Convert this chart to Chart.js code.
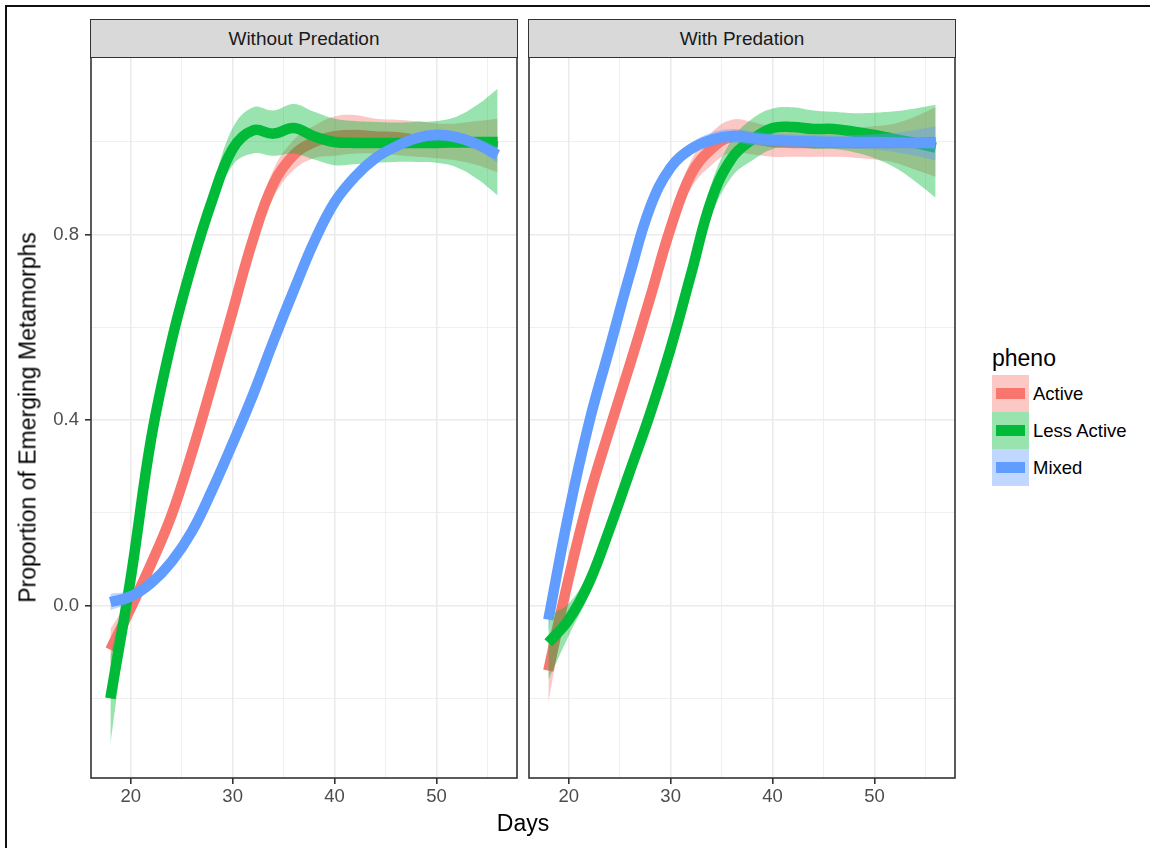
<!DOCTYPE html>
<html>
<head>
<meta charset="utf-8">
<script src="https://cdn.jsdelivr.net/npm/chart.js@4.4.0/dist/chart.umd.min.js"></script>
<style>
  body { margin: 0; background: #fff; width: 1150px; height: 848px; overflow: hidden; position: relative;
         font-family: "Liberation Sans", Arial, sans-serif; }
  canvas { position: absolute; top: 0; }
  .frame { position: absolute; left: 5px; top: 5px; right: -10px; bottom: -10px;
           border-top: 2px solid #111; border-left: 2px solid #111; }
  .strip { position: absolute; top: 19.2px; height: 38.6px; box-sizing: border-box; background: #D9D9D9;
           border: 1.6px solid #333; color: #1A1A1A; font-size: 19px; line-height: 19px;
           display: flex; align-items: center; justify-content: center; }
  .title { position: absolute; font-size: 23px; line-height: 23px; color: #000; white-space: nowrap; }
  .ytitle { left: -222px; top: 406px; width: 500px; text-align: center; transform: rotate(-90deg); }
  .key { position: absolute; left: 992px; width: 37px; height: 37px; }
  .key span { position: absolute; left: 3.7px; top: 13px; width: 29.3px; height: 11px; }
  .lab { position: absolute; left: 1033px; height: 37px; font-size: 18.5px; line-height: 37px; color: #000; }
</style>
</head>
<body>
<div class="frame"></div>
<canvas id="noPred" width="520" height="848" style="left:0"></canvas>
<canvas id="pred" width="440" height="848" style="left:520px"></canvas>

<div class="strip" style="left:90.2px; width:427.6px">Without Predation</div>
<div class="strip" style="left:528.2px; width:427.6px">With Predation</div>
<div class="title" style="left:0; width:1046px; top:812px; text-align:center">Days</div>
<div class="title ytitle">Proportion of Emerging Metamorphs</div>

<div class="title" style="left:992px; top:346.5px">pheno</div>
<div id="legend"></div>

<script>
// facet panels and groups
const panels = ['Without Predation', 'With Predation'];
const groups = ['Active', 'Less Active', 'Mixed'];
const lineColors = ['#F8766D', '#00BA38', '#619CFF'];
const ribbonColors = ['rgba(248,118,109,0.4)', 'rgba(0,186,56,0.4)', 'rgba(97,156,255,0.4)'];
const keyColors = ['#FCC8C5', '#99E3AF', '#C0D7FF'];

// axis ticks
const xTicks = [20, 25, 30, 35, 40, 45, 50, 55];
const xLabels = [20, 30, 40, 50];
const yTicks = [-0.2, 0, 0.2, 0.4, 0.6, 0.8, 1.0];
const yLabels = [0, 0.4, 0.8];

// smoothed curves (days)
const days = [18, 20, 22, 24, 26, 28, 30, 32, 34, 36, 38, 40, 42, 44, 46, 48, 50, 52, 54, 56];

// Without Predation
const woActive   = [-0.095, -0.005, 0.09, 0.195, 0.33, 0.48, 0.635, 0.79, 0.91, 0.972, 1.0, 1.012, 1.015, 1.012, 1.01, 1.005, 1.002, 1.0, 0.997, 0.99];
const woActiveLo = [-0.14, -0.03, 0.07, 0.18, 0.315, 0.465, 0.62, 0.77, 0.88, 0.94, 0.965, 0.97, 0.975, 0.975, 0.972, 0.968, 0.965, 0.96, 0.95, 0.935];
const woActiveHi = [-0.05, 0.02, 0.11, 0.21, 0.345, 0.495, 0.65, 0.81, 0.94, 1.005, 1.035, 1.055, 1.058, 1.05, 1.048, 1.045, 1.04, 1.04, 1.045, 1.05];

const woLess   = [-0.2, 0.06, 0.36, 0.57, 0.735, 0.875, 0.985, 1.025, 1.018, 1.03, 1.012, 1.0, 0.998, 0.998, 0.998, 0.998, 0.998, 0.999, 1.0, 1.0];
const woLessLo = [-0.3, 0.03, 0.34, 0.55, 0.715, 0.85, 0.95, 0.975, 0.97, 0.975, 0.962, 0.95, 0.952, 0.955, 0.957, 0.957, 0.955, 0.945, 0.92, 0.885];
const woLessHi = [-0.11, 0.09, 0.38, 0.59, 0.755, 0.9, 1.03, 1.075, 1.068, 1.082, 1.065, 1.05, 1.045, 1.043, 1.042, 1.043, 1.045, 1.055, 1.08, 1.115];

const woMixed   = [0.008, 0.02, 0.049, 0.095, 0.16, 0.25, 0.35, 0.455, 0.57, 0.68, 0.785, 0.87, 0.925, 0.965, 0.99, 1.008, 1.015, 1.01, 0.995, 0.972];
const woMixedLo = [-0.01, 0.008, 0.04, 0.086, 0.15, 0.24, 0.34, 0.444, 0.558, 0.668, 0.773, 0.858, 0.913, 0.953, 0.978, 0.996, 1.003, 0.998, 0.982, 0.955];
const woMixedHi = [0.026, 0.032, 0.058, 0.104, 0.17, 0.26, 0.36, 0.466, 0.582, 0.692, 0.797, 0.882, 0.937, 0.977, 1.002, 1.02, 1.027, 1.022, 1.008, 0.989];

// With Predation
const wActive   = [-0.14, 0.06, 0.235, 0.38, 0.52, 0.665, 0.815, 0.93, 0.985, 1.012, 1.008, 1.0, 0.998, 0.998, 0.998, 0.998, 0.998, 0.998, 0.998, 1.0];
const wActiveLo = [-0.21, 0.03, 0.215, 0.362, 0.502, 0.645, 0.79, 0.9, 0.95, 0.978, 0.973, 0.968, 0.968, 0.968, 0.968, 0.966, 0.962, 0.955, 0.94, 0.925];
const wActiveHi = [-0.075, 0.09, 0.255, 0.398, 0.538, 0.685, 0.84, 0.96, 1.02, 1.048, 1.043, 1.032, 1.028, 1.028, 1.028, 1.03, 1.034, 1.04, 1.055, 1.075];

const wLess   = [-0.08, -0.03, 0.05, 0.165, 0.29, 0.415, 0.555, 0.715, 0.875, 0.965, 1.005, 1.03, 1.032, 1.028, 1.028, 1.022, 1.015, 1.006, 0.998, 0.988];
const wLessLo = [-0.16, -0.065, 0.025, 0.14, 0.265, 0.39, 0.53, 0.69, 0.84, 0.925, 0.96, 0.985, 0.99, 0.985, 0.985, 0.978, 0.965, 0.945, 0.915, 0.88];
const wLessHi = [-0.02, 0.005, 0.075, 0.19, 0.315, 0.44, 0.58, 0.74, 0.91, 1.005, 1.05, 1.072, 1.075, 1.068, 1.065, 1.062, 1.063, 1.066, 1.072, 1.08];

const wMixed   = [-0.03, 0.2, 0.395, 0.555, 0.715, 0.86, 0.945, 0.985, 1.005, 1.013, 1.008, 1.004, 1.002, 1.001, 1.0, 1.0, 1.0, 0.999, 0.998, 0.997];
const wMixedLo = [-0.055, 0.182, 0.38, 0.542, 0.703, 0.847, 0.932, 0.972, 0.99, 0.998, 0.993, 0.99, 0.988, 0.987, 0.986, 0.985, 0.983, 0.978, 0.97, 0.96];
const wMixedHi = [-0.005, 0.218, 0.41, 0.568, 0.727, 0.873, 0.958, 0.998, 1.02, 1.028, 1.023, 1.018, 1.016, 1.015, 1.014, 1.015, 1.017, 1.02, 1.026, 1.034];

const near = (list, v) => list.some(t => Math.abs(t - v) < 1e-6);
const pts = arr => days.map((d, i) => ({ x: d, y: arr[i] }));

function buildDatasets(lines, los, his) {
  const ds = [];
  groups.forEach((g, i) => {
    const base = 10 - 2 * i; // Active at the bottom, Mixed on top
    ds.push({ label: g + ' hi', data: pts(his[i]), fill: '+1', backgroundColor: ribbonColors[i],
              borderColor: 'transparent', borderWidth: 0, order: base });
    ds.push({ label: g + ' lo', data: pts(los[i]), fill: false,
              borderColor: 'transparent', borderWidth: 0, order: base });
    ds.push({ label: g, data: pts(lines[i]), fill: false, borderColor: lineColors[i],
              borderWidth: 10.5, order: base - 1 });
  });
  return ds;
}

const panelBorder = {
  id: 'panelBorder',
  afterDatasetsDraw(chart) {
    const { ctx, chartArea: a } = chart;
    ctx.save();
    ctx.strokeStyle = '#333333';
    ctx.lineWidth = 1.6;
    ctx.strokeRect(a.left, a.top, a.right - a.left, a.bottom - a.top);
    ctx.restore();
  }
};

const tickFont = { family: 'Liberation Sans', size: 18.5 };

function panelOptions(showY, yWidth, padRight) {
  return {
    responsive: false,
    animation: false,
    events: [],
    layout: { padding: { top: 57, right: padRight, left: 0, bottom: 0 } },
    plugins: { legend: { display: false }, tooltip: { enabled: false } },
    elements: { point: { radius: 0 }, line: { tension: 0.4 } },
    scales: {
      x: {
        type: 'linear', min: 16.1, max: 57.9,
        afterBuildTicks: ax => { ax.ticks = xTicks.map(v => ({ value: v })); },
        afterFit: ax => { ax.height = 70; },
        ticks: { autoSkip: false, maxRotation: 0, padding: 2, color: '#4D4D4D', font: tickFont,
                 callback: v => near(xLabels, v) ? String(v) : '' },
        grid: { color: '#EBEBEB',
                lineWidth: c => (c.tick && near(xLabels, c.tick.value)) ? 1.6 : 0.8,
                tickColor: c => (c.tick && near(xLabels, c.tick.value)) ? '#333333' : 'rgba(0,0,0,0)',
                tickWidth: 1.6, tickLength: 6 },
        border: { display: false }
      },
      y: {
        type: 'linear', min: -0.3715, max: 1.1832,
        afterBuildTicks: ax => { ax.ticks = yTicks.map(v => ({ value: v })); },
        afterFit: ax => { ax.width = yWidth; },
        ticks: { display: showY, padding: 6, color: '#4D4D4D', font: tickFont,
                 callback: v => near(yLabels, v) ? v.toFixed(1) : '' },
        grid: { color: '#EBEBEB', drawTicks: showY,
                lineWidth: c => (c.tick && near(yLabels, c.tick.value)) ? 1.6 : 0.8,
                tickColor: c => (c.tick && near(yLabels, c.tick.value)) ? '#333333' : 'rgba(0,0,0,0)',
                tickWidth: 1.6, tickLength: 6 },
        border: { display: false }
      }
    }
  };
}

new Chart(document.getElementById('noPred'), {
  type: 'line',
  data: { datasets: buildDatasets([woActive, woLess, woMixed], [woActiveLo, woLessLo, woMixedLo], [woActiveHi, woLessHi, woMixedHi]) },
  options: panelOptions(true, 91, 3),
  plugins: [panelBorder]
});

new Chart(document.getElementById('pred'), {
  type: 'line',
  data: { datasets: buildDatasets([wActive, wLess, wMixed], [wActiveLo, wLessLo, wMixedLo], [wActiveHi, wLessHi, wMixedHi]) },
  options: panelOptions(false, 9, 5),
  plugins: [panelBorder]
});

// legend
const legend = document.getElementById('legend');
groups.forEach((g, i) => {
  const top = 375 + i * 37;
  const key = document.createElement('div');
  key.className = 'key';
  key.style.top = top + 'px';
  key.style.background = keyColors[i];
  const bar = document.createElement('span');
  bar.style.background = lineColors[i];
  key.appendChild(bar);
  legend.appendChild(key);
  const lab = document.createElement('div');
  lab.className = 'lab';
  lab.style.top = top + 'px';
  lab.textContent = g;
  legend.appendChild(lab);
});
</script>
</body>
</html>
